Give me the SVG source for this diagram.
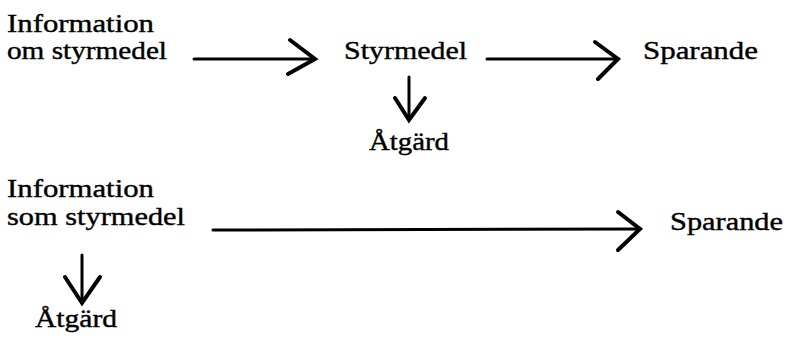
<svg xmlns="http://www.w3.org/2000/svg" width="786" height="347" viewBox="0 0 786 347">
<style>
text{font-family:"Liberation Serif","Times New Roman",serif;font-size:26px;fill:#000;stroke:#000;stroke-width:0.4}
.ln{stroke:#000;stroke-width:3;fill:none;stroke-linecap:round;stroke-linejoin:round}
.hd{stroke:#000;stroke-width:4;fill:none;stroke-linecap:round;stroke-linejoin:miter}
</style>
<rect width="786" height="347" fill="#fff"/>
<g id="info-om">
<text x="7" y="32" textLength="147" lengthAdjust="spacingAndGlyphs">Information</text>
<text x="7" y="59" textLength="160" lengthAdjust="spacingAndGlyphs">om styrmedel</text>
</g>
<g id="styrmedel"><text x="344" y="59" textLength="123" lengthAdjust="spacingAndGlyphs">Styrmedel</text></g>
<g id="sparande1"><text x="643" y="59" textLength="115" lengthAdjust="spacingAndGlyphs">Sparande</text></g>
<g id="atgard1"><text x="369" y="150" textLength="80" lengthAdjust="spacingAndGlyphs">Åtgärd</text></g>
<g id="info-som">
<text x="7" y="197" textLength="147" lengthAdjust="spacingAndGlyphs">Information</text>
<text x="7" y="225" textLength="178" lengthAdjust="spacingAndGlyphs">som styrmedel</text>
</g>
<g id="sparande2"><text x="670" y="230" textLength="113" lengthAdjust="spacingAndGlyphs">Sparande</text></g>
<g id="atgard2"><text x="35" y="327" textLength="82" lengthAdjust="spacingAndGlyphs">Åtgärd</text></g>
<g id="connectors">
<line class="ln" x1="194" y1="59" x2="313" y2="59"/>
<polyline class="hd" points="290,40 315,59 288,74"/>
<line class="ln" x1="487" y1="59" x2="616" y2="59"/>
<polyline class="hd" points="595,42 618,59 598,79"/>
<line class="ln" x1="409" y1="77" x2="409" y2="118"/>
<polyline class="hd" points="395,98 409,120 425,98"/>
<line class="ln" x1="213" y1="230" x2="638" y2="229"/>
<polyline class="hd" points="618,212 640,229 618,250"/>
<line class="ln" x1="82" y1="255" x2="82" y2="301"/>
<polyline class="hd" points="65,277 82,303 100,277"/>
</g>
</svg>
